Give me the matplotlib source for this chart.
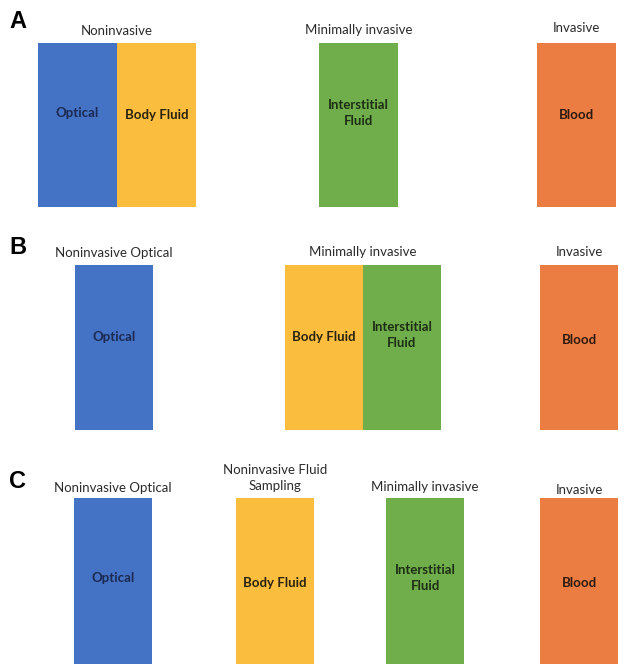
import matplotlib
matplotlib.use("Agg")
import matplotlib.pyplot as plt

# panel labels
panels = ["A", "B", "C"]

# headers above each group of boxes, per panel
headers_A = ["Noninvasive", "Minimally invasive", "Invasive"]
headers_B = ["Noninvasive Optical", "Minimally invasive", "Invasive"]
headers_C = ["Noninvasive Optical", "Noninvasive Fluid\nSampling", "Minimally invasive", "Invasive"]

# sample types inside each group
groups_A = [["Optical", "Body Fluid"], ["Interstitial\nFluid"], ["Blood"]]
groups_B = [["Optical"], ["Body Fluid", "Interstitial\nFluid"], ["Blood"]]
groups_C = [["Optical"], ["Body Fluid"], ["Interstitial\nFluid"], ["Blood"]]

colors = {
    "Optical": "#4472c4",
    "Body Fluid": "#fbbd3e",
    "Interstitial\nFluid": "#70ad4b",
    "Blood": "#ec7d42",
}
text_colors = {
    "Optical": "#1b2a52",
    "Body Fluid": "#2a2210",
    "Interstitial\nFluid": "#1c2e14",
    "Blood": "#2c1a10",
}

# layout in pixels: left edge of each group, box width, top/bottom of boxes
layout = {
    "A": dict(lefts=[38, 319, 537], w=79, top=43, bottom=207, head_y=[31, 30, 28], lab_y=22),
    "B": dict(lefts=[75, 285, 540], w=78, top=265, bottom=430, head_y=[253, 252, 252], lab_y=247),
    "C": dict(lefts=[74, 236, 386, 540], w=78, top=498, bottom=664, head_y=[488, 478, 487, 490], lab_y=481),
}
text_y_off = {"A": [113, 115, 113, 115], "B": [337, 337, 335, 340], "C": [578, 583, 578, 583]}

fig = plt.figure(figsize=(6.24, 6.72), dpi=100)
ax = fig.add_axes([0, 0, 1, 1])
ax.set_xlim(0, 624)
ax.set_ylim(672, 0)
ax.axis("off")

font = ["Lato", "DejaVu Sans"]

for p, headers, groups in [("A", headers_A, groups_A), ("B", headers_B, groups_B), ("C", headers_C, groups_C)]:
    L = layout[p]
    ax.text(9, L["lab_y"], p, fontsize=17, fontweight="bold", family="Liberation Sans",
            va="center", ha="left", color="black")
    k = 0
    for gi, (head, segs) in enumerate(zip(headers, groups)):
        left = L["lefts"][gi]
        xs = [left + i * L["w"] for i in range(len(segs))]
        ax.bar(xs, L["bottom"] - L["top"], width=L["w"], bottom=L["top"], align="edge",
               color=[colors[s] for s in segs], linewidth=0)
        cx = left + len(segs) * L["w"] / 2
        ax.text(cx, L["head_y"][gi], head, ha="center", va="center", fontsize=9.5,
                family=font, color="#2b2b2b", linespacing=1.4)
        for s, x0 in zip(segs, xs):
            ax.text(x0 + L["w"] / 2, text_y_off[p][k], s, ha="center", va="center",
                    fontsize=9.5, fontweight="bold", family=font, color=text_colors[s],
                    linespacing=1.45)
            k += 1

fig.savefig("out.png", dpi=100)
